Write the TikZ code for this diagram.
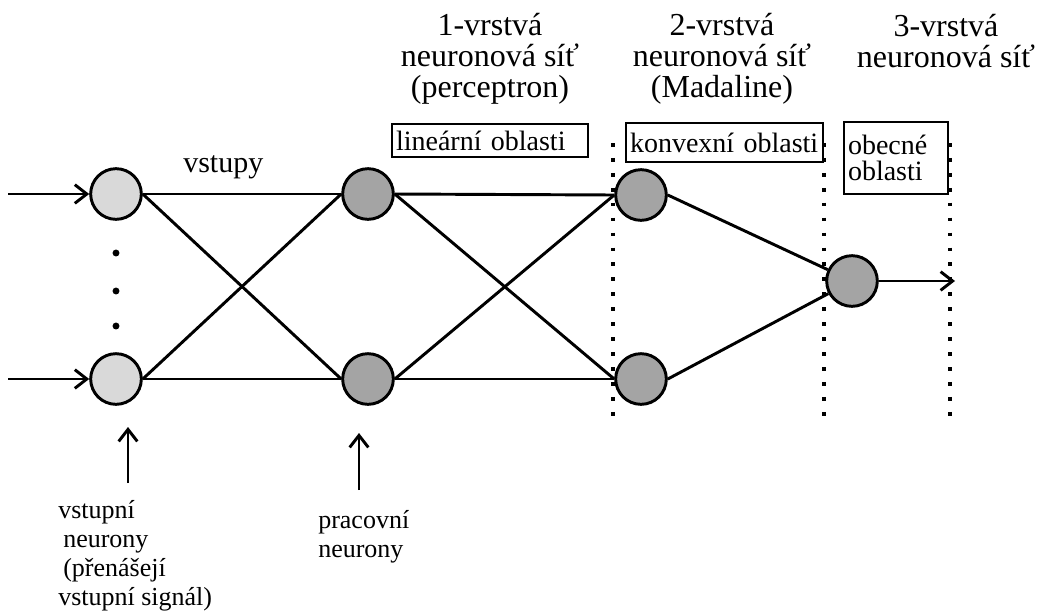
\documentclass[tikz,border=0pt]{standalone}
\usepackage{fontspec}
\setmainfont{Liberation Serif}
\usetikzlibrary{arrows.meta}

\definecolor{inputgray}{RGB}{217,217,217}
\definecolor{workgray}{RGB}{164,164,164}

\tikzset{
  unit/.style={circle, draw, line width=2.2pt, minimum size=38pt, inner sep=0pt},
  inunit/.style={unit, fill=inputgray},
  workunit/.style={unit, fill=workgray},
  link/.style={line width=2.2pt},
  feed/.style={line width=2.2pt, -{Straight Barb[length=9pt,width=14pt]}},
  boundary/.style={line width=2.6pt, dash pattern=on 2.8pt off 8.4pt},
  region/.style={draw, line width=1pt, inner xsep=3pt, inner ysep=0pt, align=left,
                 font=\fontsize{21}{19}\selectfont},
  title/.style={align=center, anchor=base, inner sep=0pt,
                font=\fontsize{24}{23.25}\selectfont},
  caption/.style={align=left, anchor=base west, inner sep=0pt,
                  font=\fontsize{19.5}{21.75}\selectfont},
}

\begin{document}
\begin{tikzpicture}[x=0.75pt, y=-0.75pt]
  \useasboundingbox (0,0) rectangle (1038,615);

  % layer boundaries
  \foreach \name/\xx in {b1/613, b2/824, b3/950} {
    \coordinate (\name top) at (\xx,143);
    \coordinate (\name bot) at (\xx,426);
    \draw[boundary] (\name top) -- (\name bot);
  }

  % neurons
  \node[inunit]   (I1) at (116,194) {};
  \node[inunit]   (I2) at (116,379) {};
  \node[workunit] (H1) at (368,194) {};
  \node[workunit] (H2) at (368,379) {};
  \node[workunit] (M1) at (641,195) {};
  \node[workunit] (M2) at (641,379) {};
  \node[workunit] (O)  at (852,281) {};

  % ellipsis between the input neurons
  \foreach \yy in {253,291,326}
    \fill (116,\yy) circle[radius=2.6pt];

  % connections
  \foreach \a in {I1,I2} \foreach \b in {H1,H2}
    \draw[link] (\a.east) -- (\b.west);
  \foreach \a in {H1,H2} \foreach \b in {M1,M2}
    \draw[link] (\a.east) -- (\b.west);
  \draw[link] (M1.east) -- (O);
  \draw[link] (M2.east) -- (O);

  % inputs and output
  \coordinate (in1) at (8,194);
  \coordinate (in2) at (8,379);
  \coordinate (out) at (955,281);
  \draw[feed] (in1) -- (I1.west);
  \draw[feed] (in2) -- (I2.west);
  \draw[feed] (O.east) -- (out);

  % layer titles (anchored at the baseline of the last line)
  \node[title] (T1) at (490,97) {1-vrstvá\\neuronová síť\\(perceptron)};
  \node[title] (T2) at (722,97) {2-vrstvá\\neuronová síť\\(Madaline)};
  \node[title] (T3) at (946,67) {3-vrstvá\\neuronová síť};

  % separable regions
  \node[region, text width=188pt*0.75, minimum height=33*0.75pt] (R1) at (490,140.5) {lineární oblasti};
  \node[region, text width=189pt*0.75, minimum height=39*0.75pt] (R2) at (724.5,142.5) {konvexní oblasti};
  \node[region, text width=96pt*0.75, minimum height=72*0.75pt] (R3) at (896,158) {obecné\\oblasti};

  \node[anchor=base west, inner sep=0pt, font=\fontsize{22.5}{24}\selectfont] (L) at (183,172) {vstupy};

  % captions under the network
  \coordinate (a1) at (128,483);
  \coordinate (a1t) at (128,427);
  \coordinate (a2) at (359,490);
  \coordinate (a2t) at (359,433);
  \draw[feed] (a1) -- (a1t);
  \draw[feed] (a2) -- (a2t);
  \node[caption] (C1) at (58,605) {vstupní\\\hspace*{3.75pt}neurony\\\hspace*{3.75pt}(přenášejí\\vstupní signál)};
  \node[caption] (C2) at (318,557) {pracovní\\neurony};
\end{tikzpicture}
\end{document}
